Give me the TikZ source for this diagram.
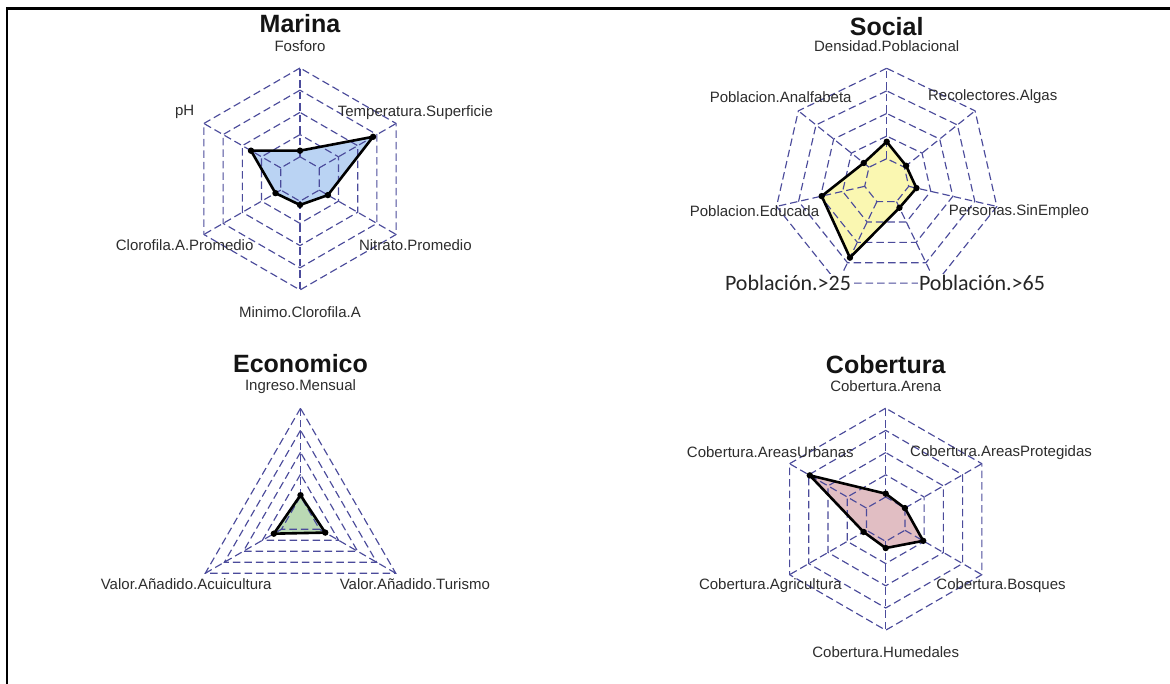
\documentclass[tikz,border=0pt]{standalone}
\usepackage{fontspec}
\setmainfont{Liberation Sans}
\newfontfamily\carlito{Carlito}
\definecolor{gridc}{RGB}{75,75,155}
\definecolor{txtc}{RGB}{45,45,45}
\definecolor{fillblue}{RGB}{140,182,236}
\definecolor{fillyellow}{RGB}{247,242,125}
\definecolor{fillgreen}{RGB}{140,192,130}
\definecolor{fillpink}{RGB}{205,148,155}
\tikzset{
  gridline/.style={draw=gridc, line width=1.15pt, dash pattern=on 7.5pt off 4pt},
  dataline/.style={draw=black, line width=2.6pt, line join=round},
  axlabel/.style={text=txtc, font=\fontsize{15}{18}\selectfont, inner sep=0pt},
  charttitle/.style={font=\fontsize{25}{29}\selectfont\bfseries, text=black!92},
  customlabel/.style={font=\carlito\fontsize{22}{26}\selectfont, fill=white, inner sep=1pt, text=black!85},
  framebar/.style={draw=black, line width=2.2pt}
}
\newcommand\radarchart[9]{%
\begin{scope}[shift={(#2,#3)}]
  \pgfmathtruncatemacro\last{#5-1}
  \foreach \v [count=\k from 0] in {#6} {\coordinate (#1-p\k) at ({90+360*\k/#5}:{\v*#4});}
  \fill[#8, fill opacity=0.6] (#1-p0) \foreach \k in {1,...,\last} {-- (#1-p\k)} -- cycle;
  \foreach \j in {1,...,5} {
    \draw[gridline] (90:{\j*#4/5}) \foreach \k in {1,...,\last} {-- ({90+360*\k/#5}:{\j*#4/5})} -- cycle;
  }
  \foreach \k in {0,...,\last} {\draw[gridline] ({90+360*\k/#5}:{#4/5}) -- ({90+360*\k/#5}:#4);}
  \draw[dataline] (#1-p0) \foreach \k in {1,...,\last} {-- (#1-p\k)} -- cycle;
  \foreach \k in {0,...,\last} {\fill[black] (#1-p\k) circle (3.2pt);}
  \foreach \lab [count=\k from 0] in {#7} {\node[axlabel] (#1-l\k) at ({90+360*\k/#5}:{1.2*#4}) {\lab};}
  \node[charttitle] (#1-title) at (0,155) {#9};
\end{scope}}
\begin{document}
\begin{tikzpicture}[x=1pt,y=1pt]
\useasboundingbox (0,0) rectangle (1170,684);
\fill[white] (0,0) rectangle (1170,684);
\coordinate (fb) at (7,0);
\coordinate (fc) at (7,675.5);
\coordinate (fr) at (1170,675.5);
\draw[framebar] (fb) -- (fc) -- (fr);

\radarchart{mar}{300}{505}{111}{6}{0.255,0.51,0.255,0.234,0.29,0.76}
  {Fosforo,pH,Clorofila.A.Promedio,Minimo.Clorofila.A,Nitrato.Promedio,Temperatura.Superficie}{fillblue}{Marina}

\radarchart{soc}{886.7}{502.7}{113}{7}{0.35,0.26,0.59,0.75,0.26,0.27,0.22}
  {Densidad.Poblacional,Poblacion.Analfabeta,Poblacion.Educada,,,Personas.SinEmpleo,Recolectores.Algas}{fillyellow}{Social}
\node[customlabel] (s25) at (788,401) {Población.>25};
\node[customlabel] (s65) at (982,401) {Población.>65};

\radarchart{eco}{300.5}{165.7}{110}{3}{0.21,0.28,0.26}
  {Ingreso.Mensual,Valor.Añadido.Acuicultura,Valor.Añadido.Turismo}{fillgreen}{Economico}

\radarchart{cob}{885.7}{164.8}{111}{6}{0.23,0.79,0.23,0.26,0.39,0.2}
  {Cobertura.Arena,Cobertura.AreasUrbanas,Cobertura.Agricultura,Cobertura.Humedales,Cobertura.Bosques,Cobertura.AreasProtegidas}{fillpink}{Cobertura}
\end{tikzpicture}
\end{document}
